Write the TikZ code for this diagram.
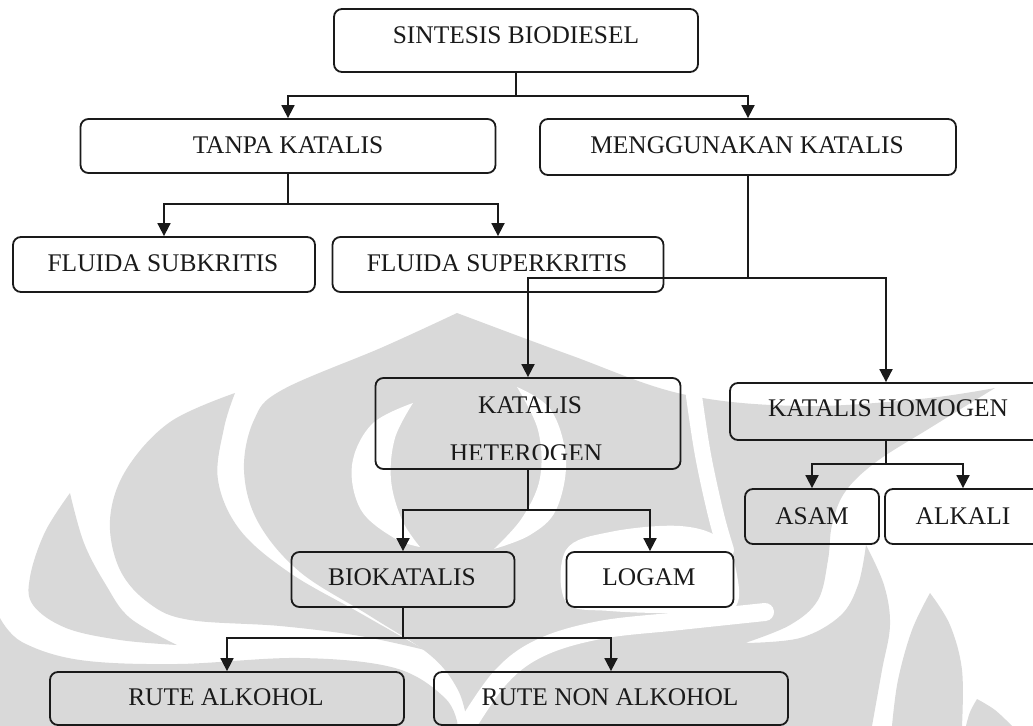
\documentclass[tikz,border=0pt]{standalone}
\usepackage{fontspec}
\setmainfont{Liberation Serif}
\usetikzlibrary{arrows.meta}
\definecolor{wm}{RGB}{217,217,217}
\definecolor{ink}{RGB}{26,26,26}
\begin{document}
\begin{tikzpicture}[x=1bp,y=-1bp,
  box/.style={draw=ink,line width=1.8bp,rounded corners=8bp,inner sep=0pt},
  lbl/.style={inner sep=0pt,font=\fontsize{25.5}{30}\selectfont,text=ink},
  conn/.style={draw=ink,line width=1.8bp},
  arr/.style={conn,-{Triangle[width=13bp,length=13bp]}},
  gap/.style={fill=white},
  seam/.style={draw=white,line cap=round}]
\useasboundingbox (0,0) rectangle (1033,726);

% ---- watermark: faint emblem behind the chart ----
% main body
\fill[wm] (457,313)
  -- plot[smooth,tension=0.6] coordinates {(457,313) (570,355) (682,394) (800,406) (920,399) (995,388)}
  -- plot[smooth,tension=0.6] coordinates {(995,388) (930,428) (876,462) (845,492) (832,525) (828,560) (818,600) (790,625) (745,643)}
  -- plot[smooth,tension=0.6] coordinates {(745,643) (800,638) (840,616) (858,585) (866,545)}
  -- plot[smooth,tension=0.6] coordinates {(866,545) (884,585) (890,625) (882,670) (872,726)}
  -- (468,726)
  -- plot[smooth,tension=0.6] coordinates {(468,726) (458,690) (430,655) (370,616) (300,572) (258,522) (244,470) (254,420) (282,390) (383,347) (457,313)}
  -- cycle;
% left flames
\fill[wm] plot[smooth,tension=0.6] coordinates {(235,393) (170,422) (126,470) (110,520) (120,570) (150,604) (190,620) (280,626) (360,636) (425,650)}
  -- plot[smooth,tension=0.6] coordinates {(425,650) (360,613) (290,573) (240,530) (218,480) (224,428) (235,393)} -- cycle;
\fill[wm] plot[smooth,tension=0.6] coordinates {(70,493) (45,532) (30,577) (33,605) (66,628) (120,640) (177,645)}
  -- plot[smooth,tension=0.6] coordinates {(177,645) (130,618) (106,585) (84,543) (70,493)} -- cycle;
% lower left sweep
\fill[wm] (0,618) -- plot[smooth,tension=0.6] coordinates {(0,618) (22,642) (80,660) (177,664) (300,658) (395,668) (445,698) (458,726)} -- (0,726) -- cycle;
% right flames
\fill[wm] plot[smooth,tension=0.6] coordinates {(930,593) (912,630) (898,680) (892,726)}
  -- plot[smooth,tension=0.6] coordinates {(962,726) (962,670) (950,625) (930,593)} -- cycle;
\fill[wm] plot[smooth,tension=0.6] coordinates {(977,699) (970,712) (966,726)} -- (1012,726)
  -- plot[smooth,tension=0.6] coordinates {(1012,726) (995,710) (977,699)} -- cycle;
% white seams inside the body
\fill[gap] plot[smooth,tension=0.6] coordinates {(413,403) (372,424) (352,465) (361,510) (394,538) (420,547)}
  -- plot[smooth,tension=0.6] coordinates {(420,547) (402,520) (391,480) (395,438) (413,403)} -- cycle;
\fill[gap] plot[smooth,tension=0.6] coordinates {(517,387) (551,410) (566,460) (556,510) (530,535) (494,549)}
  -- plot[smooth,tension=0.6] coordinates {(494,549) (522,518) (540,478) (538,430) (517,387)} -- cycle;
\draw[seam,line width=16bp] plot[smooth,tension=0.6] coordinates {(694,396) (703,455) (716,515) (726,550)};
\fill[gap] plot[smooth cycle,tension=0.6] coordinates {(566,550) (610,532) (680,526) (722,540) (737,575) (734,608) (690,613) (610,611) (566,602)};
\draw[seam,line width=18bp] plot[smooth,tension=0.6] coordinates {(463,732) (500,678) (540,648) (600,630) (680,621) (765,612)};

% ---- boxes ----
\node[box,minimum width=364bp,minimum height=63bp] (sint) at (516,40.5) {};
\node[box,minimum width=415bp,minimum height=54bp] (tanpa) at (288,146) {};
\node[box,minimum width=416bp,minimum height=56bp] (meng) at (748,147) {};
\node[box,minimum width=302bp,minimum height=55bp] (sub) at (164,264.5) {};
\node[box,minimum width=331bp,minimum height=55bp] (super) at (498,264.5) {};
\node[box,minimum width=305bp,minimum height=91bp] (het) at (528,423.5) {};
\node[box,minimum width=312bp,minimum height=57bp] (hom) at (886,411.5) {};
\node[box,minimum width=134bp,minimum height=55bp] (asam) at (812,516.5) {};
\node[box,minimum width=156bp,minimum height=55bp] (alk) at (963,516.5) {};
\node[box,minimum width=223bp,minimum height=55bp] (bio) at (403,579.5) {};
\node[box,minimum width=167bp,minimum height=55bp] (logam) at (650,579.5) {};
\node[box,minimum width=354bp,minimum height=53bp] (ra) at (227,698.5) {};
\node[box,minimum width=354bp,minimum height=53bp] (rna) at (611,698.5) {};

% ---- labels ----
\node[lbl] (sint-t) at (516,35) {SINTESIS BIODIESEL};
\node[lbl] (tanpa-t) at (288,145) {TANPA KATALIS};
\node[lbl] (meng-t) at (747,145) {MENGGUNAKAN KATALIS};
\node[lbl] (sub-t) at (163,263.5) {FLUIDA SUBKRITIS};
\node[lbl] (super-t) at (497,263.5) {FLUIDA SUPERKRITIS};
\node[lbl] (het-t1) at (530,405) {KATALIS};
\begin{scope}
  \clip (370,370) rectangle (690,459);
  \node[lbl] (het-t2) at (526,453) {HETEROGEN};
\end{scope}
\node[lbl] (hom-t) at (888,408) {KATALIS HOMOGEN};
\node[lbl] (asam-t) at (812,516) {ASAM};
\node[lbl] (alk-t) at (963,516) {ALKALI};
\node[lbl] (bio-t) at (402,577) {BIOKATALIS};
\node[lbl] (logam-t) at (649,577) {LOGAM};
\node[lbl] (ra-t) at (226,697) {RUTE ALKOHOL};
\node[lbl] (rna-t) at (610,697) {RUTE NON ALKOHOL};

% ---- connectors ----
\coordinate (j1) at (516,96);
\draw[conn] (sint.south) -- (j1);
\draw[arr] (j1) -| (tanpa.north);
\draw[arr] (j1) -| (meng.north);

\coordinate (j2) at (288,204);
\draw[conn] (tanpa.south) -- (j2);
\draw[arr] (j2) -| (sub.north);
\draw[arr] (j2) -| (super.north);

\coordinate (j3) at (748,278);
\draw[conn] (meng.south) -- (j3);
\draw[arr] (j3) -| (het.north);
\draw[arr] (j3) -| (hom.north);

\coordinate (j4) at (528,510);
\draw[conn] (het.south) -- (j4);
\draw[arr] (j4) -| (bio.north);
\draw[arr] (j4) -| (logam.north);

\coordinate (j5) at (886,464);
\draw[conn] (hom.south) -- (j5);
\draw[arr] (j5) -| (asam.north);
\draw[arr] (j5) -| (alk.north);

\coordinate (j6) at (403,638);
\draw[conn] (bio.south) -- (j6);
\draw[arr] (j6) -| (ra.north);
\draw[arr] (j6) -| (rna.north);
\end{tikzpicture}
\end{document}
